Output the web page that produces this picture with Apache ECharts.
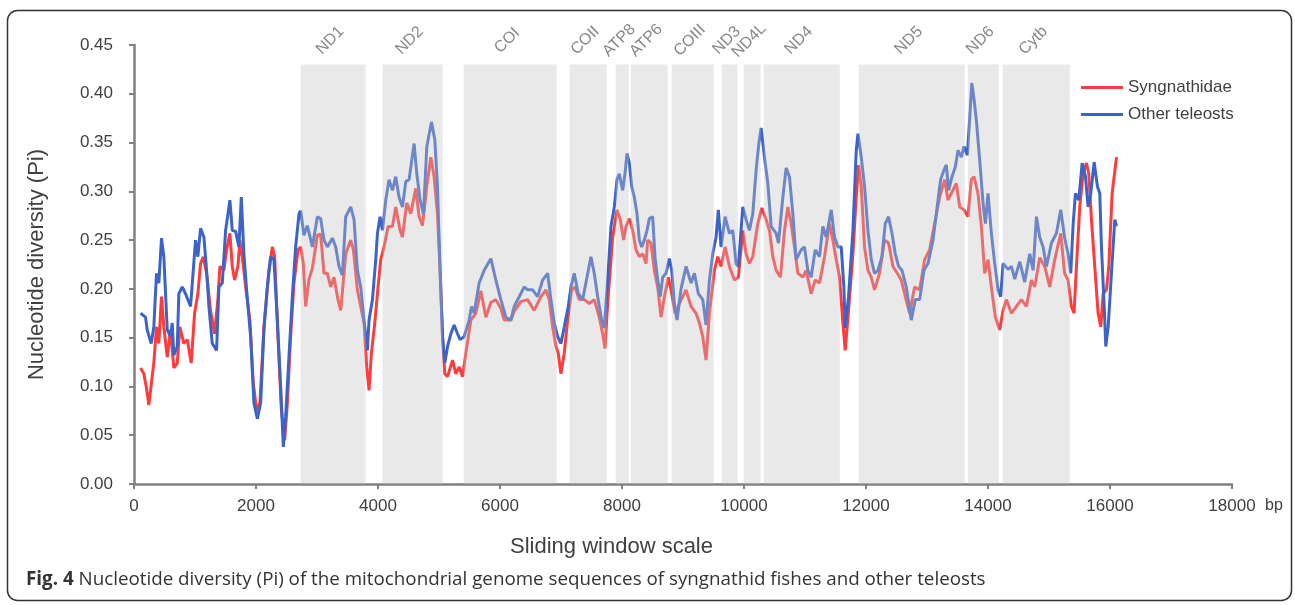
<!DOCTYPE html>
<html>
<head>
<meta charset="utf-8">
<script src="https://cdn.jsdelivr.net/npm/echarts@6/dist/echarts.min.js"></script>
<style>html,body{margin:0;padding:0;background:#fff}#c{width:1295px;height:605px}</style>
</head>
<body>
<div id="c"></div>
<script>
// ---- data ----
const xTicks = [0, 2000, 4000, 6000, 8000, 10000, 12000, 14000, 16000, 18000];
const yTicks = [0, 0.05, 0.10, 0.15, 0.20, 0.25, 0.30, 0.35, 0.40, 0.45];

const geneNames = ['ND1','ND2','COI','COII','ATP8','ATP6','COIII','ND3','ND4L','ND4','ND5','ND6','Cytb'];
const geneStart = [2731, 4075, 5404, 7142, 7897, 8143, 8815, 9635, 9995, 10323, 11882, 13669, 14243];
const geneEnd   = [3797, 5059, 6929, 7749, 8110, 8750, 9504, 9897, 10274, 11570, 13620, 14177, 15342];
const shadeTop = 0.43;

const synPos = [107,161,200,243,298,325,369,407,451,489,545,599,653,709,752,817,873,938,993,1047,1091,1135,1190,1255,1321,1375,1408,1474,1518,1572,1611,1649,1703,1736,1780,1830,1900,1956,2010,2064,2130,2212,2268,2306,2360,2416,2470,2514,2568,2622,2688,2732,2776,2814,2869,2924,3006,3060,3115,3170,3225,3279,3344,3389,3471,3553,3597,3662,3717,3771,3815,3853,3892,3947,4001,4045,4099,4165,4237,4291,4362,4401,4472,4537,4619,4674,4729,4800,4866,4920,4975,5018,5058,5095,5140,5222,5276,5330,5386,5440,5522,5604,5686,5768,5850,5932,6014,6069,6178,6233,6342,6452,6561,6671,6753,6807,6863,6917,6955,6999,7053,7109,7174,7229,7299,7381,7463,7545,7627,7683,7721,7765,7847,7918,7972,8027,8066,8120,8175,8230,8284,8339,8394,8421,8476,8530,8585,8640,8695,8761,8815,8870,8941,9050,9132,9214,9269,9324,9378,9433,9515,9570,9624,9690,9761,9843,9908,9980,10034,10089,10144,10226,10291,10363,10417,10473,10527,10598,10664,10719,10773,10828,10883,10965,11019,11101,11167,11238,11320,11402,11457,11512,11566,11621,11659,11714,11786,11840,11879,11922,11976,12032,12086,12140,12222,12304,12370,12442,12513,12578,12633,12715,12797,12879,12961,13043,13125,13207,13289,13344,13399,13481,13536,13607,13672,13727,13771,13836,13891,13946,14001,14055,14121,14192,14247,14302,14384,14466,14548,14630,14712,14766,14848,14930,15012,15094,15193,15255,15312,15367,15411,15450,15504,15559,15614,15652,15696,15750,15805,15849,15888,15942,15980,16035,16068,16107];
const synPi = [0.119,0.113,0.100,0.081,0.110,0.124,0.161,0.144,0.192,0.161,0.130,0.158,0.119,0.124,0.161,0.144,0.148,0.124,0.175,0.195,0.226,0.233,0.216,0.178,0.154,0.189,0.223,0.219,0.240,0.257,0.223,0.209,0.223,0.250,0.230,0.202,0.168,0.103,0.076,0.083,0.161,0.219,0.243,0.233,0.151,0.076,0.045,0.083,0.151,0.206,0.240,0.243,0.226,0.182,0.210,0.221,0.255,0.256,0.216,0.216,0.202,0.212,0.189,0.178,0.236,0.250,0.240,0.199,0.182,0.165,0.120,0.096,0.134,0.165,0.202,0.230,0.243,0.264,0.264,0.284,0.260,0.253,0.288,0.277,0.303,0.274,0.265,0.305,0.335,0.315,0.277,0.219,0.151,0.113,0.110,0.127,0.113,0.120,0.110,0.134,0.168,0.175,0.198,0.171,0.186,0.189,0.180,0.168,0.168,0.177,0.187,0.189,0.178,0.192,0.199,0.189,0.161,0.141,0.134,0.113,0.134,0.168,0.199,0.202,0.189,0.189,0.185,0.189,0.171,0.154,0.139,0.185,0.253,0.281,0.271,0.250,0.264,0.272,0.260,0.240,0.233,0.236,0.226,0.250,0.247,0.219,0.202,0.171,0.192,0.212,0.195,0.175,0.185,0.199,0.182,0.175,0.165,0.151,0.127,0.175,0.219,0.233,0.223,0.243,0.223,0.209,0.212,0.260,0.236,0.226,0.233,0.267,0.283,0.271,0.260,0.233,0.219,0.212,0.260,0.284,0.267,0.243,0.216,0.212,0.219,0.195,0.209,0.206,0.233,0.267,0.250,0.230,0.212,0.165,0.137,0.178,0.236,0.294,0.327,0.305,0.243,0.219,0.212,0.199,0.216,0.250,0.247,0.223,0.216,0.209,0.195,0.175,0.202,0.199,0.230,0.240,0.267,0.294,0.312,0.291,0.298,0.308,0.284,0.281,0.274,0.312,0.315,0.298,0.264,0.216,0.230,0.202,0.171,0.158,0.178,0.189,0.175,0.182,0.189,0.182,0.209,0.202,0.232,0.223,0.202,0.230,0.257,0.216,0.209,0.182,0.175,0.223,0.284,0.318,0.329,0.318,0.271,0.223,0.175,0.161,0.195,0.199,0.223,0.298,0.315,0.335];

const othPos = [107,189,216,282,325,369,407,451,489,545,599,627,653,709,735,791,845,927,1009,1047,1091,1146,1190,1228,1283,1354,1392,1447,1502,1572,1611,1666,1720,1759,1802,1846,1912,1966,2022,2076,2130,2186,2240,2294,2350,2404,2448,2486,2540,2596,2650,2705,2732,2786,2842,2924,3006,3060,3115,3170,3252,3307,3361,3416,3471,3553,3607,3662,3717,3771,3826,3853,3909,3963,3991,4034,4073,4127,4181,4237,4291,4345,4401,4455,4510,4592,4636,4690,4746,4800,4877,4931,4975,5018,5058,5095,5140,5194,5248,5304,5346,5412,5494,5533,5576,5658,5740,5850,5932,6014,6096,6178,6233,6315,6397,6452,6534,6616,6699,6781,6835,6890,6945,6999,7053,7119,7163,7217,7283,7355,7426,7491,7545,7601,7667,7709,7765,7819,7874,7918,7956,8011,8049,8082,8120,8159,8202,8246,8284,8323,8366,8410,8448,8503,8541,8585,8628,8667,8722,8776,8815,8858,8902,8968,9050,9132,9187,9252,9324,9378,9433,9488,9542,9580,9624,9690,9761,9816,9870,9908,9980,10034,10089,10144,10199,10243,10281,10335,10391,10445,10527,10565,10637,10691,10745,10801,10855,10937,10991,11047,11101,11167,11238,11293,11348,11430,11484,11539,11594,11637,11659,11714,11786,11840,11868,11922,11976,12032,12086,12140,12196,12261,12316,12370,12426,12480,12535,12590,12660,12742,12808,12879,12951,13016,13099,13153,13223,13279,13317,13354,13410,13464,13508,13563,13607,13661,13700,13735,13770,13809,13864,13919,13957,14001,14055,14110,14165,14208,14247,14330,14384,14438,14520,14602,14684,14740,14794,14848,14903,14958,15040,15122,15193,15255,15312,15357,15396,15434,15488,15543,15598,15641,15685,15740,15794,15832,15860,15905,15931,15970,16024,16079,16107];
const othPi = [0.175,0.171,0.158,0.144,0.161,0.216,0.206,0.252,0.233,0.158,0.151,0.165,0.132,0.141,0.195,0.202,0.195,0.182,0.250,0.233,0.262,0.253,0.219,0.182,0.144,0.137,0.202,0.206,0.260,0.291,0.260,0.259,0.243,0.294,0.236,0.199,0.151,0.083,0.067,0.083,0.158,0.202,0.233,0.230,0.168,0.100,0.038,0.069,0.130,0.192,0.243,0.277,0.280,0.255,0.265,0.243,0.274,0.272,0.250,0.243,0.252,0.243,0.223,0.214,0.274,0.284,0.271,0.219,0.202,0.168,0.137,0.168,0.189,0.230,0.257,0.274,0.260,0.291,0.312,0.301,0.315,0.294,0.284,0.310,0.312,0.349,0.318,0.291,0.277,0.346,0.371,0.353,0.305,0.219,0.151,0.124,0.141,0.154,0.163,0.154,0.148,0.151,0.168,0.182,0.175,0.206,0.219,0.231,0.209,0.189,0.171,0.168,0.182,0.192,0.202,0.199,0.199,0.192,0.209,0.216,0.189,0.165,0.151,0.144,0.161,0.182,0.202,0.216,0.195,0.189,0.212,0.233,0.216,0.192,0.168,0.160,0.209,0.264,0.284,0.312,0.318,0.301,0.318,0.339,0.329,0.305,0.294,0.277,0.250,0.243,0.250,0.260,0.272,0.274,0.233,0.209,0.192,0.212,0.216,0.231,0.219,0.185,0.168,0.200,0.223,0.206,0.216,0.195,0.189,0.163,0.209,0.236,0.253,0.281,0.243,0.274,0.257,0.260,0.226,0.223,0.284,0.271,0.260,0.277,0.322,0.349,0.365,0.335,0.308,0.264,0.257,0.247,0.294,0.324,0.315,0.277,0.230,0.240,0.243,0.219,0.212,0.240,0.233,0.264,0.253,0.281,0.253,0.243,0.243,0.202,0.160,0.192,0.260,0.342,0.359,0.335,0.305,0.260,0.230,0.216,0.219,0.233,0.267,0.274,0.257,0.236,0.223,0.219,0.202,0.168,0.189,0.189,0.219,0.226,0.250,0.277,0.312,0.322,0.327,0.301,0.315,0.325,0.342,0.335,0.346,0.337,0.375,0.411,0.395,0.373,0.332,0.288,0.267,0.298,0.257,0.226,0.199,0.192,0.226,0.220,0.223,0.210,0.228,0.207,0.236,0.219,0.274,0.253,0.243,0.223,0.247,0.257,0.281,0.253,0.236,0.216,0.267,0.298,0.291,0.329,0.315,0.284,0.298,0.330,0.305,0.298,0.243,0.182,0.141,0.161,0.216,0.271,0.264];

const synData = synPos.map((x, i) => [x, synPi[i]]);
const othData = othPos.map((x, i) => [x, othPi[i]]);
const geneData = geneNames.map((n, i) => [geneStart[i], geneEnd[i], shadeTop]);

const FONT = 'Liberation Sans, Arial, sans-serif';
const chart = echarts.init(document.getElementById('c'), null, {renderer: 'canvas'});
chart.setOption({
  animation: false,
  backgroundColor: '#fff',
  grid: {left: 134, right: 63, top: 45, bottom: 121, containLabel: false},
  title: [
    {text: 'Sliding window scale', left: 505, top: 531,
     textStyle: {fontFamily: FONT, fontSize: 22, fontWeight: 'normal', color: '#404040'}},
    {text: '{b|Fig. 4} Nucleotide diversity (Pi) of the mitochondrial genome sequences of syngnathid fishes and other teleosts',
     left: 21, top: 565,
     textStyle: {fontFamily: 'Open Sans', fontSize: 18.8, fontWeight: 'normal', color: '#333',
       rich: {b: {fontFamily: 'Open Sans', fontSize: 18.8, fontWeight: 'bold', color: '#333'}}}}
  ],
  graphic: [
    {type: 'rect', left: 5, top: 8, shape: {width: 1284, height: 590, r: 10},
     style: {fill: 'none', stroke: '#333', lineWidth: 1.5}, silent: true}
  ],
  legend: {
    orient: 'vertical', left: 1076, top: 74, itemWidth: 42, itemHeight: 3, itemGap: 10,
    icon: 'rect',
    textStyle: {fontFamily: FONT, fontSize: 17, color: '#404040', padding: [0, 0, 0, 0], height: 17, lineHeight: 17},
    data: ['Syngnathidae', 'Other teleosts']
  },
  xAxis: {
    type: 'value', min: 0, max: 18000, interval: 2000,
    name: 'bp', nameLocation: 'end', nameGap: 33,
    nameTextStyle: {fontFamily: FONT, fontSize: 16, color: '#404040', verticalAlign: 'top', align: 'left', padding: [14, 0, 0, 0]},
    axisLine: {show: true, lineStyle: {color: '#808080', width: 2.5}},
    axisTick: {show: true, length: 5, lineStyle: {color: '#808080', width: 2}},
    axisLabel: {fontFamily: FONT, fontSize: 17, color: '#404040', margin: 14,
      formatter: v => String(v)},
    splitLine: {show: false}
  },
  yAxis: {
    type: 'value', min: 0, max: 0.45, interval: 0.05,
    name: 'Nucleotide diversity (Pi)', nameLocation: 'middle', nameGap: 86, nameRotate: 90,
    nameTextStyle: {fontFamily: FONT, fontSize: 22, color: '#404040'},
    axisLine: {show: true, lineStyle: {color: '#808080', width: 2.5}},
    axisTick: {show: true, length: 5, lineStyle: {color: '#808080', width: 2}},
    axisLabel: {fontFamily: FONT, fontSize: 17, color: '#404040', margin: 21,
      formatter: v => v.toFixed(2)},
    splitLine: {show: false}
  },
  series: [
    {name: 'Syngnathidae', type: 'line', data: synData, showSymbol: false, symbol: 'none',
     lineStyle: {color: '#ff3b3b', width: 3}, itemStyle: {color: '#ff3b3b'}, z: 3},
    {name: 'Other teleosts', type: 'line', data: othData, showSymbol: false, symbol: 'none',
     lineStyle: {color: '#3c64c8', width: 3}, itemStyle: {color: '#3c64c8'}, z: 4},
    {name: 'genes', type: 'custom', data: geneData, z: 10, silent: true,
     encode: {x: [0, 1], y: 2},
     renderItem: function (params, api) {
       const p0 = api.coord([api.value(0), api.value(2)]);
       const p1 = api.coord([api.value(1), 0]);
       const cx = (p0[0] + p1[0]) / 2;
       return {type: 'group', children: [
         {type: 'rect', shape: {x: p0[0], y: p0[1], width: p1[0] - p0[0], height: p1[1] - p0[1]},
          style: {fill: 'rgba(195,195,195,0.37)'}},
         {type: 'text', x: cx - 3, y: p0[1] - 24, rotation: Math.PI / 4,
          style: {text: geneNames[params.dataIndex], align: 'center', verticalAlign: 'middle',
                  fill: '#878787', font: '16px ' + FONT}}
       ]};
     }}
  ]
});
</script>
</body>
</html>
